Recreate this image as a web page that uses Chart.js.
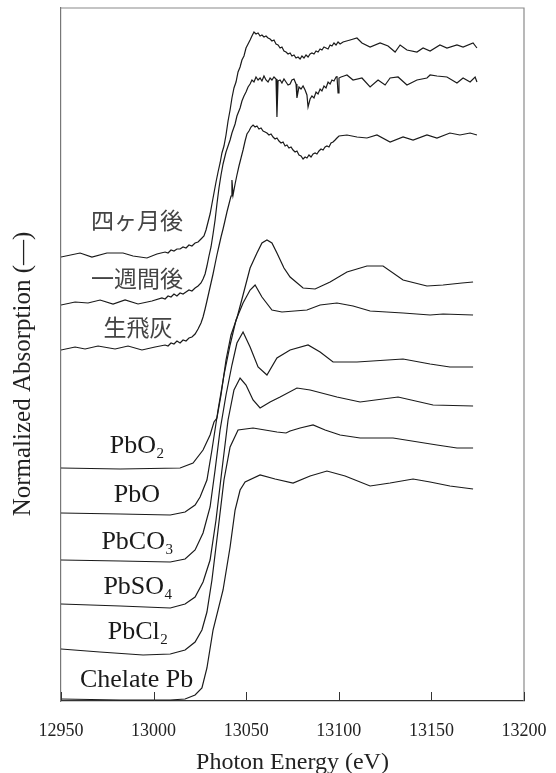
<!DOCTYPE html>
<html>
<head>
<meta charset="utf-8">
<script src="https://cdn.jsdelivr.net/npm/chart.js@4.4.1/dist/chart.umd.min.js"></script>
<style>
  html, body { margin: 0; padding: 0; background: #fff; }
  canvas { display: block; }
</style>
</head>
<body>
<canvas id="xanes" width="556" height="773"></canvas>
<script>
// Pb L3-edge XANES spectra, stacked with offsets. [energy eV, offset absorption]
const xTicks = [12950, 13000, 13050, 13100, 13150, 13200];

const fourMonths = [
  [12950.0,4.44],[12960.3,4.48],[12966.7,4.44],[12974.8,4.48],[12983.5,4.48],[12988.9,4.45],
  [12996.4,4.43],[13001.8,4.47],[13006.2,4.49],[13007.8,4.48],[13009.4,4.51],[13011.0,4.50],
  [13012.6,4.52],[13014.3,4.52],[13015.9,4.54],[13017.5,4.53],[13019.1,4.56],[13020.7,4.55],
  [13022.4,4.58],[13024.0,4.59],[13025.6,4.62],[13027.2,4.65],[13028.3,4.71],[13029.4,4.79],
  [13030.5,4.87],[13031.5,4.97],[13032.6,5.08],[13033.7,5.19],[13034.8,5.29],[13035.9,5.38],
  [13036.9,5.48],[13038.0,5.55],[13039.1,5.66],[13040.2,5.80],[13041.3,5.91],[13042.3,6.03],
  [13043.4,6.13],[13044.5,6.19],[13045.6,6.29],[13046.7,6.34],[13047.7,6.41],[13048.8,6.45],
  [13049.9,6.53],[13051.0,6.57],[13052.1,6.61],[13053.1,6.65],[13054.2,6.69],[13055.3,6.67],
  [13056.4,6.68],[13057.5,6.65],[13058.5,6.66],[13059.6,6.64],[13060.7,6.65],[13061.8,6.63],
  [13062.9,6.62],[13063.9,6.60],[13065.0,6.61],[13066.1,6.57],[13067.2,6.56],[13068.3,6.53],
  [13069.3,6.54],[13070.4,6.50],[13071.5,6.49],[13072.6,6.47],[13073.7,6.48],[13074.7,6.45],
  [13075.8,6.46],[13076.9,6.43],[13078.0,6.44],[13079.1,6.42],[13080.1,6.45],[13081.2,6.43],
  [13082.3,6.46],[13083.4,6.44],[13084.5,6.47],[13085.5,6.48],[13086.6,6.47],[13087.7,6.50],
  [13088.8,6.49],[13089.9,6.52],[13090.9,6.51],[13092.0,6.54],[13093.1,6.53],[13094.2,6.52],
  [13095.3,6.56],[13096.3,6.55],[13097.4,6.58],[13098.5,6.56],[13099.6,6.59],[13100.7,6.57],
  [13102.3,6.59],[13106.1,6.61],[13109.8,6.63],[13112.5,6.58],[13116.9,6.54],[13122.3,6.58],
  [13126.6,6.55],[13130.4,6.49],[13133.1,6.56],[13136.8,6.51],[13142.2,6.49],[13145.5,6.53],
  [13149.3,6.50],[13154.6,6.56],[13158.4,6.53],[13163.8,6.56],[13167.1,6.54],[13172.5,6.58],
  [13174.6,6.53]
];

const oneWeek = [
  [12950.0,3.96],[12957.6,3.99],[12964.6,3.98],[12971.1,4.01],[12978.1,3.97],[12984.6,4.01],
  [12991.6,3.97],[12999.1,4.00],[13004.5,4.03],[13006.2,4.02],[13007.8,4.05],[13009.4,4.04],
  [13011.0,4.07],[13012.6,4.05],[13014.3,4.08],[13015.9,4.07],[13017.5,4.09],[13019.1,4.11],
  [13020.7,4.10],[13022.4,4.13],[13024.0,4.15],[13025.6,4.18],[13026.7,4.22],[13027.8,4.27],
  [13028.8,4.35],[13029.9,4.45],[13031.0,4.54],[13032.1,4.67],[13033.2,4.81],[13034.2,4.97],
  [13035.3,5.13],[13036.4,5.26],[13037.5,5.37],[13039.1,5.49],[13040.2,5.55],[13041.3,5.61],
  [13042.3,5.68],[13044.0,5.77],[13045.0,5.85],[13046.7,5.93],[13047.7,6.00],[13048.8,6.05],
  [13049.9,6.09],[13051.0,6.14],[13052.1,6.17],[13053.1,6.21],[13054.2,6.19],[13055.3,6.24],
  [13056.4,6.21],[13057.5,6.23],[13058.5,6.20],[13059.6,6.25],[13060.7,6.21],[13061.8,6.19],
  [13062.9,6.23],[13063.9,6.21],[13065.0,6.24],[13066.1,6.22],[13066.6,5.84],[13067.2,6.20],
  [13068.3,6.21],[13069.3,6.18],[13070.4,6.22],[13071.5,6.19],[13072.6,6.16],[13073.7,6.17],
  [13074.7,6.21],[13075.8,6.22],[13076.9,6.17],[13077.4,6.03],[13078.5,6.14],[13079.6,6.12],
  [13080.7,6.15],[13081.8,6.11],[13082.8,6.06],[13083.4,5.94],[13084.5,6.02],[13085.5,6.05],
  [13086.6,6.03],[13087.7,6.09],[13088.8,6.07],[13089.9,6.12],[13090.9,6.10],[13092.0,6.15],
  [13093.1,6.13],[13094.2,6.19],[13095.3,6.17],[13096.3,6.21],[13097.4,6.20],[13098.5,6.24],
  [13099.0,6.25],[13099.6,6.08],[13100.1,6.23],[13101.2,6.24],[13102.8,6.25],[13104.4,6.26],
  [13107.7,6.21],[13112.5,6.23],[13116.9,6.14],[13121.2,6.21],[13125.0,6.16],[13127.7,6.23],
  [13132.0,6.24],[13136.8,6.16],[13142.2,6.21],[13147.6,6.23],[13149.3,6.26],[13153.0,6.25],
  [13158.4,6.24],[13163.8,6.18],[13167.1,6.23],[13170.9,6.19],[13173.6,6.24],[13174.6,6.19]
];

const rawFlyAsh = [
  [12950.0,3.51],[12957.6,3.54],[12963.0,3.52],[12970.0,3.55],[12979.2,3.52],[12986.2,3.55],
  [12993.7,3.51],[13000.8,3.54],[13006.2,3.56],[13007.8,3.55],[13009.4,3.58],[13011.0,3.57],
  [13012.6,3.60],[13014.3,3.58],[13015.9,3.61],[13017.5,3.60],[13019.1,3.63],[13020.7,3.64],
  [13022.4,3.67],[13024.0,3.72],[13025.6,3.78],[13026.7,3.84],[13027.8,3.92],[13028.8,4.00],
  [13029.9,4.09],[13031.0,4.18],[13032.1,4.27],[13033.2,4.37],[13034.2,4.46],[13035.3,4.55],
  [13036.4,4.64],[13037.5,4.72],[13038.5,4.80],[13039.6,4.89],[13040.7,4.97],[13041.8,5.05],
  [13042.3,5.21],[13042.9,5.06],[13044.0,5.17],[13045.0,5.26],[13046.1,5.35],[13047.2,5.43],
  [13048.3,5.51],[13049.4,5.60],[13050.4,5.67],[13051.5,5.70],[13052.6,5.74],[13053.7,5.76],
  [13054.8,5.74],[13055.8,5.75],[13056.9,5.72],[13058.0,5.73],[13059.1,5.70],[13060.2,5.69],
  [13061.2,5.68],[13062.3,5.66],[13063.4,5.67],[13064.5,5.64],[13065.6,5.62],[13066.6,5.63],
  [13067.7,5.60],[13068.8,5.58],[13069.9,5.59],[13071.0,5.55],[13072.0,5.56],[13073.1,5.53],
  [13074.2,5.54],[13075.3,5.51],[13076.4,5.49],[13077.4,5.50],[13078.5,5.46],[13079.6,5.45],
  [13080.7,5.42],[13081.8,5.44],[13082.8,5.43],[13083.9,5.46],[13085.0,5.44],[13086.1,5.47],
  [13087.2,5.48],[13088.2,5.47],[13089.3,5.50],[13090.4,5.52],[13091.5,5.51],[13092.6,5.54],
  [13093.6,5.55],[13094.7,5.54],[13095.8,5.58],[13096.9,5.59],[13098.0,5.61],[13099.0,5.63],
  [13100.1,5.65],[13104.4,5.66],[13109.8,5.64],[13115.2,5.63],[13120.6,5.66],[13127.7,5.59],
  [13134.7,5.64],[13140.1,5.61],[13147.6,5.66],[13153.0,5.63],[13160.0,5.68],[13165.4,5.66],
  [13170.9,5.68],[13174.6,5.66]
];

const pbO2 = [
  [12950,2.33],[12982,2.32],[13014.3,2.33],[13021.3,2.38],[13026.7,2.51],[13030.5,2.66],
  [13032.6,2.79],[13034.2,2.83],[13036.4,3.06],[13039.1,3.41],[13041.8,3.66],[13045.0,3.83],
  [13048.3,4.06],[13052.1,4.33],[13055.8,4.48],[13058.5,4.58],[13061.2,4.61],[13063.9,4.58],
  [13066.6,4.48],[13070.4,4.33],[13073.7,4.24],[13080.7,4.13],[13087.2,4.12],[13095.3,4.19],
  [13104.4,4.29],[13115.2,4.35],[13123.9,4.35],[13134.7,4.21],[13147.6,4.15],[13156.3,4.16],
  [13166.5,4.18],[13172.5,4.19]
];

const pbO = [
  [12950,1.88],[12982,1.87],[13009,1.86],[13017,1.89],[13022.4,1.96],[13025.1,2.04],
  [13028.8,2.21],[13031.5,2.51],[13034.8,2.91],[13038.0,3.26],[13041.3,3.56],[13044.5,3.81],
  [13048.3,3.98],[13052.1,4.11],[13054.8,4.16],[13058.5,4.04],[13063.9,3.91],[13069.3,3.89],
  [13082.8,3.91],[13089.9,3.96],[13099.0,3.98],[13107.7,3.95],[13116.9,3.90],[13134.7,3.88],
  [13149.3,3.86],[13156.3,3.87],[13172.5,3.86]
];

const pbCO3 = [
  [12950,1.41],[12982,1.40],[13009,1.39],[13017,1.42],[13022.4,1.51],[13026.7,1.68],
  [13030.5,1.94],[13033.2,2.31],[13035.9,2.71],[13039.1,3.06],[13042.3,3.36],[13045.0,3.58],
  [13048.3,3.69],[13052.1,3.54],[13056.4,3.34],[13061.2,3.26],[13066.6,3.43],[13073.7,3.51],
  [13083.4,3.56],[13089.9,3.49],[13096.9,3.39],[13109.8,3.39],[13134.7,3.42],[13149.3,3.37],
  [13160.0,3.34],[13172.5,3.34]
];

const pbSO4 = [
  [12950,0.97],[12982,0.95],[13009,0.93],[13017,0.97],[13022.4,1.04],[13026.7,1.19],
  [13030.5,1.41],[13033.7,1.81],[13036.9,2.31],[13040.2,2.81],[13043.4,3.11],[13046.7,3.23],
  [13049.9,3.16],[13053.7,3.01],[13057.5,2.93],[13062.9,2.99],[13068.3,3.04],[13077.4,3.13],
  [13084.5,3.11],[13099.0,3.04],[13111.5,2.99],[13132.0,3.04],[13150.9,2.96],[13172.5,2.95]
];

const pbCl2 = [
  [12950,0.52],[12971,0.49],[12994.3,0.46],[13009,0.47],[13017,0.51],[13022.4,0.59],
  [13026.1,0.71],[13028.8,0.89],[13031.5,1.21],[13034.8,1.71],[13038.0,2.21],[13041.3,2.54],
  [13045.6,2.71],[13053.7,2.73],[13066.6,2.69],[13071.5,2.68],[13073.7,2.70],[13079.1,2.73],
  [13086.1,2.76],[13092.6,2.71],[13100.7,2.66],[13111.5,2.63],[13129.3,2.63],[13153.0,2.56],
  [13163.8,2.53],[13172.5,2.53]
];

const chelatePb = [
  [12950,0.02],[12982,0.01],[13009,0.01],[13017,0.02],[13022.4,0.06],[13026.1,0.13],
  [13028.8,0.33],[13032.1,0.71],[13037.5,1.11],[13041.3,1.54],[13044.0,1.91],[13046.7,2.11],
  [13049.4,2.19],[13057.5,2.26],[13065.6,2.22],[13075.3,2.18],[13084.5,2.25],[13093.6,2.30],
  [13103.4,2.25],[13116.9,2.15],[13127.7,2.18],[13140.1,2.22],[13149.3,2.19],[13160.0,2.15],
  [13172.5,2.12]
];

const seriesNames = ['四ヶ月後', '一週間後', '生飛灰', 'PbO2', 'PbO', 'PbCO3', 'PbSO4', 'PbCl2', 'Chelate Pb'];
const seriesData = [fourMonths, oneWeek, rawFlyAsh, pbO2, pbO, pbCO3, pbSO4, pbCl2, chelatePb];

// label text split into main part and subscript, anchored in data coordinates
const curveLabels = [
  { main: '四ヶ月後', sub: '', x: 12991, y: 4.81, cjk: true },
  { main: '一週間後', sub: '', x: 12991, y: 4.23, cjk: true },
  { main: '生飛灰', sub: '', x: 12991.6, y: 3.74, cjk: true },
  { main: 'PbO', sub: '2', x: 12990.8, y: 2.55 },
  { main: 'PbO', sub: '', x: 12991, y: 2.06 },
  { main: 'PbCO', sub: '3', x: 12991, y: 1.59 },
  { main: 'PbSO', sub: '4', x: 12991.3, y: 1.14 },
  { main: 'PbCl', sub: '2', x: 12991.3, y: 0.69 },
  { main: 'Chelate Pb', sub: '', x: 12990.8, y: 0.21 }
];

const SERIF = '"Liberation Serif", "Times New Roman", serif';
const CJK = '"Noto Sans CJK JP", sans-serif';

const decorations = {
  id: 'decorations',
  afterDraw(chart) {
    const { ctx, chartArea: a, scales } = chart;
    ctx.save();
    // top and right frame
    ctx.strokeStyle = '#8a8a8a';
    ctx.lineWidth = 1.2;
    ctx.beginPath();
    ctx.moveTo(a.left, a.top);
    ctx.lineTo(a.right, a.top);
    ctx.lineTo(a.right, a.bottom);
    ctx.stroke();
    // inward ticks on the energy axis
    ctx.strokeStyle = '#333';
    ctx.lineWidth = 1;
    xTicks.forEach(v => {
      const px = Math.round(scales.x.getPixelForValue(v)) + 0.5;
      ctx.beginPath();
      ctx.moveTo(px, a.bottom);
      ctx.lineTo(px, a.bottom - 9);
      ctx.stroke();
    });
    // y axis title, sits a bit below the middle
    ctx.fillStyle = '#222';
    ctx.font = '25px ' + SERIF;
    ctx.textAlign = 'center';
    ctx.textBaseline = 'middle';
    ctx.translate(23, 374);
    ctx.rotate(-Math.PI / 2);
    ctx.fillText('Normalized Absorption (—)', 0, 0);
    ctx.restore();

    // curve labels
    ctx.save();
    ctx.textBaseline = 'middle';
    ctx.textAlign = 'left';
    curveLabels.forEach(l => {
      const cx = scales.x.getPixelForValue(l.x);
      const cy = scales.y.getPixelForValue(l.y);
      const mainFont = l.cjk ? '23px ' + CJK : '26px ' + SERIF;
      const subFont = '15px ' + SERIF;
      ctx.font = mainFont;
      const wMain = ctx.measureText(l.main).width;
      ctx.font = subFont;
      const wSub = l.sub ? ctx.measureText(l.sub).width : 0;
      const x0 = cx - (wMain + wSub) / 2;
      ctx.fillStyle = l.cjk ? '#444' : '#1a1a1a';
      ctx.font = mainFont;
      ctx.fillText(l.main, x0, cy);
      if (l.sub) {
        ctx.font = subFont;
        ctx.fillText(l.sub, x0 + wMain + 0.5, cy + 8);
      }
    });
    ctx.restore();
  }
};

new Chart(document.getElementById('xanes').getContext('2d'), {
  type: 'scatter',
  data: {
    datasets: seriesData.map((d, i) => ({
      label: seriesNames[i],
      data: d.map(p => ({ x: p[0], y: p[1] })),
      showLine: true,
      borderColor: '#1a1a1a',
      borderWidth: 1.2,
      pointRadius: 0,
      tension: 0
    }))
  },
  options: {
    responsive: false,
    animation: false,
    events: [],
    layout: { padding: { left: 0, right: 32, top: 8, bottom: 0 } },
    plugins: { legend: { display: false }, tooltip: { enabled: false } },
    scales: {
      x: {
        type: 'linear',
        min: 12950,
        max: 13200,
        afterBuildTicks: s => { s.ticks = xTicks.map(v => ({ value: v })); },
        afterFit: s => { s.height = 72; s.paddingLeft = 0; s.paddingRight = 0; },
        grid: { display: false, drawTicks: false },
        border: { display: true, color: '#333', width: 1.3 },
        ticks: {
          color: '#222',
          font: { family: SERIF, size: 18 },
          padding: 19,
          maxRotation: 0,
          callback: v => String(v)
        },
        title: {
          display: true,
          text: 'Photon Energy (eV)',
          color: '#222',
          font: { family: SERIF, size: 24 },
          padding: { top: 0, bottom: -4 }
        }
      },
      y: {
        type: 'linear',
        min: 0,
        max: 6.93,
        afterFit: s => { s.width = 61; s.paddingTop = 0; s.paddingBottom = 0; },
        grid: { display: false, drawTicks: false },
        border: { display: true, color: '#777', width: 1.2 },
        ticks: { display: false }
      }
    }
  },
  plugins: [decorations]
});
</script>
</body>
</html>
